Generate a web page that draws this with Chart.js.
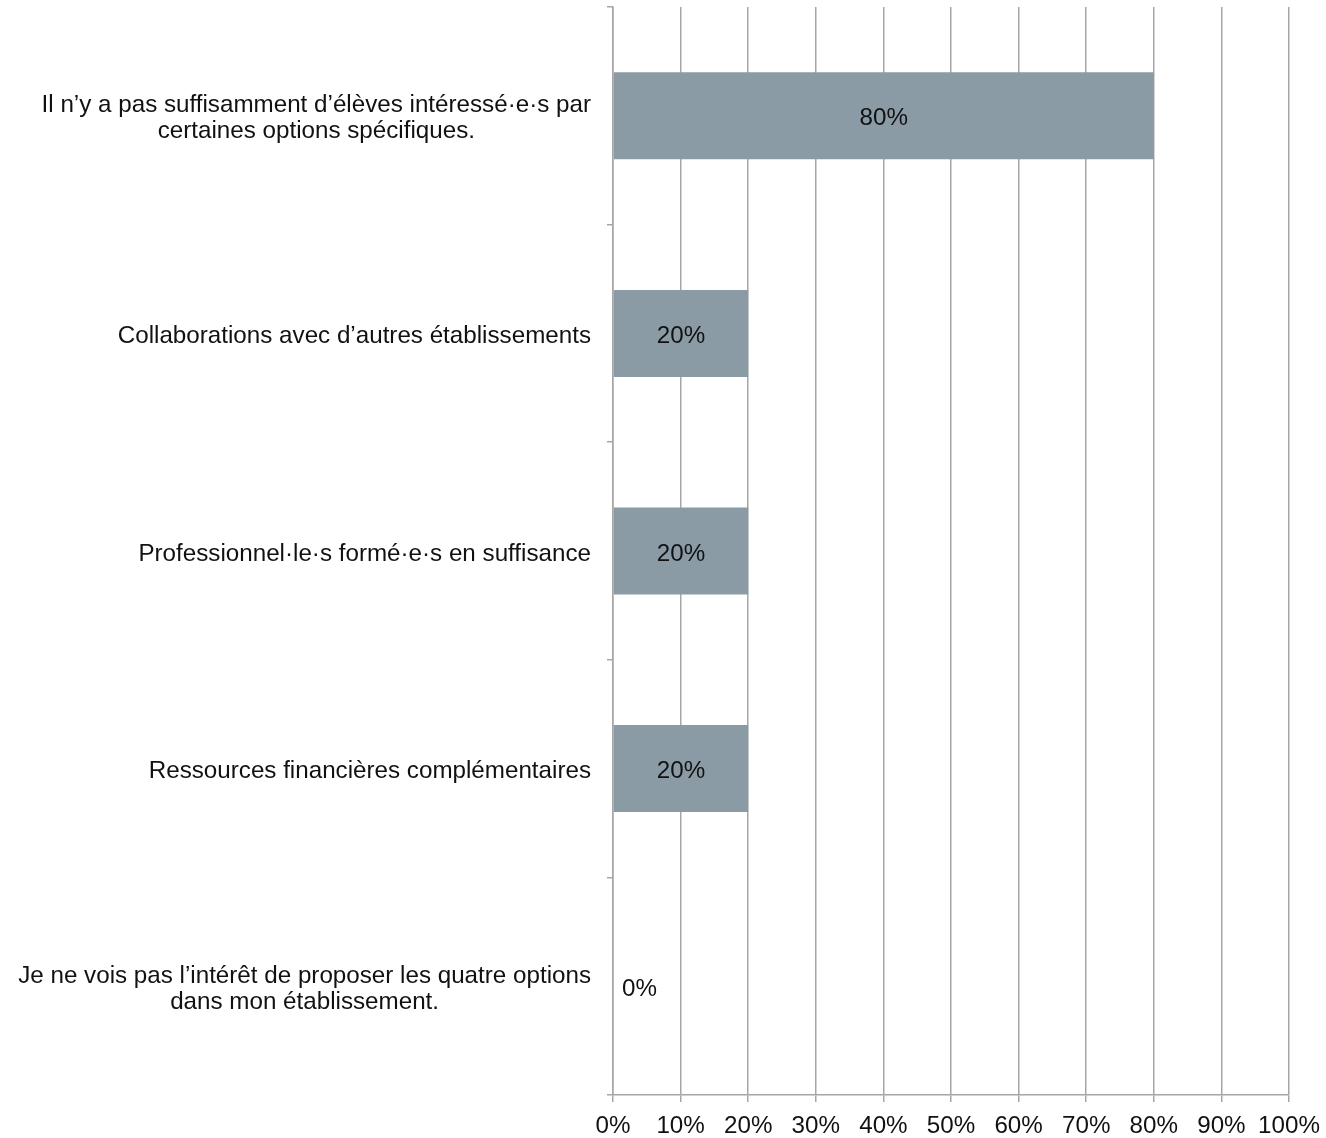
<!DOCTYPE html>
<html>
<head>
<meta charset="utf-8">
<script src="https://cdn.jsdelivr.net/npm/chart.js@4"></script>
<style>
  html, body { margin: 0; padding: 0; background: #fff; }
  #wrap { width: 1326px; height: 1138px; }
</style>
</head>
<body>
<div id="wrap"><canvas id="grafico"></canvas></div>
<script>
// ---------------- DADOS ----------------
const categorias = [
  ["Il n’y a pas suffisamment d’élèves intéressé·e·s par", "certaines options spécifiques."],
  "Collaborations avec d’autres établissements",
  "Professionnel·le·s formé·e·s en suffisance",
  "Ressources financières complémentaires",
  ["Je ne vois pas l’intérêt de proposer les quatre options", "dans mon établissement."]
];
const valores = [80, 20, 20, 20, 0];
const ticksX = [0, 10, 20, 30, 40, 50, 60, 70, 80, 90, 100];

const fonte = "Arial, 'Liberation Sans', sans-serif";
const tamanho = 24.2;

// rótulos dentro das barras
const rotulos = {
  id: 'rotulos',
  afterDatasetsDraw(chart) {
    const ctx = chart.ctx;
    const meta = chart.getDatasetMeta(0);
    ctx.save();
    ctx.font = tamanho + "px " + fonte;
    ctx.fillStyle = "#111";
    ctx.textBaseline = "middle";
    meta.data.forEach((bar, i) => {
      const v = valores[i];
      if (v > 0) {
        ctx.textAlign = "center";
        ctx.fillText(v + "%", (bar.x + bar.base) / 2, bar.y + 3);
      } else {
        ctx.textAlign = "left";
        ctx.fillText(v + "%", bar.base + 9, bar.y + 3);
      }
    });
    ctx.restore();
  }
};

// categorias com linhas centradas entre si
const categoriasY = {
  id: 'categoriasY',
  afterDraw(chart) {
    const ctx = chart.ctx;
    const y = chart.scales.y;
    const direita = y.right - 22;
    const alturaLinha = 26;
    ctx.save();
    ctx.font = tamanho + "px " + fonte;
    ctx.fillStyle = "#111";
    ctx.textBaseline = "middle";
    ctx.textAlign = "center";
    categorias.forEach((c, i) => {
      const linhas = Array.isArray(c) ? c : [c];
      const largura = Math.max(...linhas.map(l => ctx.measureText(l).width));
      const cx = direita - largura / 2;
      const cy = y.getPixelForTick(i) + 3;
      linhas.forEach((l, k) => {
        ctx.fillText(l, cx, cy + (k - (linhas.length - 1) / 2) * alturaLinha);
      });
    });
    ctx.restore();
  }
};

new Chart(document.getElementById("grafico"), {
  type: 'bar',
  data: {
    labels: categorias,
    datasets: [{
      data: valores,
      backgroundColor: '#8a9ba5',
      borderWidth: 0,
      categoryPercentage: 1,
      barPercentage: 0.4
    }]
  },
  options: {
    indexAxis: 'y',
    responsive: true,
    maintainAspectRatio: false,
    animation: false,
    layout: { padding: { top: 7, right: 37, left: 0, bottom: 0 } },
    plugins: {
      legend: { display: false },
      tooltip: { enabled: false }
    },
    scales: {
      x: {
        min: 0,
        max: 100,
        afterBuildTicks(scale) {
          scale.ticks = ticksX.map(v => ({ value: v }));
        },
        afterFit(scale) {
          scale.height = 43;
          scale.paddingLeft = 0;
          scale.paddingRight = 0;
        },
        grid: {
          color: '#a6a6a6',
          lineWidth: 1.5,
          tickLength: 7
        },
        border: { color: '#a6a6a6', width: 1.5 },
        ticks: {
          color: '#111',
          font: { size: tamanho, family: fonte },
          padding: 10,
          maxRotation: 0,
          callback: v => v + '%'
        }
      },
      y: {
        afterFit(scale) {
          scale.width = 613;
          scale.paddingTop = 0;
          scale.paddingBottom = 0;
        },
        grid: {
          offset: true,
          drawOnChartArea: false,
          color: '#a6a6a6',
          lineWidth: 1.5,
          tickLength: 6
        },
        border: { color: '#a6a6a6', width: 1.5 },
        ticks: { display: false }
      }
    }
  },
  plugins: [rotulos, categoriasY]
});
</script>
</body>
</html>
